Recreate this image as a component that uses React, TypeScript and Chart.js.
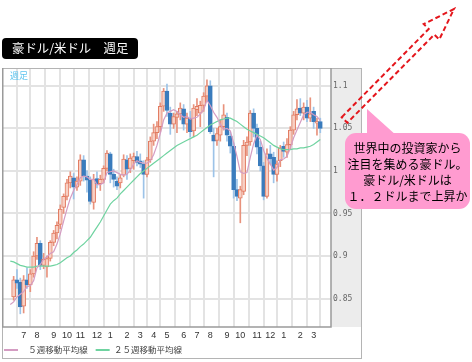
import React, { useEffect, useRef } from "react";
import { Chart, registerables } from "chart.js";

Chart.register(...registerables);

// Weekly AUD/USD candles (week 0 = mid June 2010 ... week 92 = March 2012)
const opens = [
  0.852, 0.872, 0.869, 0.841, 0.872, 0.866, 0.879, 0.900, 0.915, 0.889,
  0.887, 0.897, 0.916, 0.927, 0.937, 0.957, 0.970, 0.986, 0.992, 0.981,
  0.988, 1.013, 0.994, 0.989, 0.963, 0.991, 0.985, 0.990, 1.003, 1.020,
  0.996, 0.988, 0.986, 0.995, 1.013, 1.003, 1.012, 1.017, 1.012, 1.008,
  0.996, 1.013, 1.035, 1.045, 1.052, 1.076, 1.094, 1.068, 1.055, 1.063,
  1.067, 1.073, 1.055, 1.062, 1.047, 1.072, 1.068, 1.077, 1.088, 1.100,
  1.042, 1.036, 1.042, 1.052, 1.063, 1.041, 1.029, 0.978, 0.968, 0.976,
  1.030, 1.034, 1.068, 1.050, 1.028, 1.006, 0.970, 1.020, 1.016, 0.996,
  1.012, 1.029, 1.022, 1.031, 1.048, 1.066, 1.074, 1.068, 1.075, 1.062,
  1.070, 1.056, 1.058,
];
const highs = [
  0.876, 0.884, 0.874, 0.877, 0.886, 0.884, 0.905, 0.922, 0.918, 0.903,
  0.900, 0.918, 0.930, 0.940, 0.960, 0.973, 0.990, 0.999, 0.997, 0.993,
  1.019, 1.018, 1.000, 0.993, 0.996, 0.999, 0.995, 1.006, 1.024, 1.022,
  1.002, 0.993, 0.995, 1.019, 1.018, 1.020, 1.021, 1.023, 1.020, 1.012,
  1.016, 1.040, 1.055, 1.058, 1.080, 1.097, 1.102, 1.075, 1.068, 1.070,
  1.080, 1.078, 1.068, 1.070, 1.078, 1.085, 1.082, 1.092, 1.107, 1.106,
  1.050, 1.050, 1.060, 1.078, 1.068, 1.046, 1.033, 0.990, 0.982, 1.036,
  1.040, 1.071, 1.073, 1.055, 1.035, 1.010, 1.026, 1.030, 1.022, 1.012,
  1.030, 1.034, 1.038, 1.052, 1.070, 1.084, 1.085, 1.080, 1.083, 1.086,
  1.075, 1.062, 1.062,
];
const lows = [
  0.848, 0.862, 0.832, 0.833, 0.862, 0.858, 0.875, 0.896, 0.884, 0.885,
  0.875, 0.894, 0.912, 0.920, 0.932, 0.950, 0.966, 0.980, 0.967, 0.977,
  0.983, 0.988, 0.975, 0.961, 0.955, 0.980, 0.977, 0.986, 1.000, 0.986,
  0.981, 0.978, 0.980, 0.993, 0.990, 0.998, 1.002, 1.006, 1.004, 0.968,
  0.993, 1.010, 1.030, 1.038, 1.046, 1.070, 1.064, 1.043, 1.050, 1.045,
  1.060, 1.048, 1.045, 1.040, 1.040, 1.065, 1.052, 1.070, 1.082, 1.044,
  0.993, 1.030, 1.035, 1.048, 1.035, 1.021, 0.968, 0.965, 0.939, 0.972,
  1.018, 1.030, 1.040, 1.020, 1.000, 0.966, 0.968, 1.008, 0.986, 0.988,
  1.005, 1.016, 1.016, 1.026, 1.043, 1.060, 1.065, 1.060, 1.058, 1.058,
  1.050, 1.042, 1.045,
];
const closes = [
  0.872, 0.868, 0.840, 0.872, 0.866, 0.879, 0.900, 0.915, 0.889, 0.896,
  0.897, 0.916, 0.927, 0.936, 0.955, 0.970, 0.986, 0.994, 0.981, 0.988,
  1.013, 0.994, 0.989, 0.964, 0.990, 0.985, 0.990, 1.003, 1.021, 0.996,
  0.990, 0.982, 0.992, 1.014, 1.002, 1.015, 1.017, 1.010, 1.008, 0.996,
  1.013, 1.035, 1.045, 1.052, 1.076, 1.094, 1.071, 1.055, 1.064, 1.067,
  1.074, 1.055, 1.062, 1.046, 1.074, 1.076, 1.077, 1.088, 1.100, 1.046,
  1.035, 1.044, 1.052, 1.066, 1.042, 1.029, 0.978, 0.970, 0.978, 1.030,
  1.034, 1.068, 1.050, 1.028, 1.006, 0.970, 1.020, 1.014, 0.996, 1.008,
  1.027, 1.023, 1.031, 1.048, 1.066, 1.073, 1.068, 1.075, 1.062, 1.067,
  1.058, 1.058, 1.050,
];
// Moving averages (first value = the week before week 0)
const ma5Weekly = [
  0.843,
  0.846, 0.852, 0.855, 0.858, 0.864, 0.865, 0.871, 0.886, 0.890, 0.896,
  0.899, 0.903, 0.905, 0.914, 0.926, 0.941, 0.955, 0.968, 0.977, 0.984,
  0.992, 0.994, 0.993, 0.990, 0.990, 0.984, 0.984, 0.986, 0.998, 0.999,
  1.000, 0.998, 0.996, 0.995, 0.996, 1.001, 1.008, 1.012, 1.010, 1.009,
  1.009, 1.012, 1.019, 1.030, 1.044, 1.060, 1.068, 1.070, 1.072, 1.070,
  1.066, 1.063, 1.064, 1.061, 1.062, 1.063, 1.067, 1.072, 1.083, 1.077,
  1.069, 1.063, 1.055, 1.049, 1.050, 1.047, 1.033, 1.017, 0.999, 0.997,
  0.998, 1.016, 1.032, 1.042, 1.037, 1.024, 1.015, 1.008, 1.001, 1.004,
  1.013, 1.014, 1.017, 1.027, 1.039, 1.048, 1.057, 1.066, 1.069, 1.069,
  1.066, 1.064, 1.059,
];
const ma25Weekly = [
  0.894,
  0.893, 0.891, 0.889, 0.888, 0.887, 0.887, 0.887, 0.888, 0.888, 0.888,
  0.888, 0.888, 0.889, 0.890, 0.892, 0.895, 0.898, 0.900, 0.904, 0.907,
  0.911, 0.914, 0.918, 0.922, 0.928, 0.934, 0.940, 0.947, 0.954, 0.961,
  0.965, 0.968, 0.973, 0.977, 0.981, 0.985, 0.989, 0.993, 0.997, 1.000,
  1.003, 1.006, 1.009, 1.012, 1.015, 1.018, 1.021, 1.024, 1.027, 1.030,
  1.032, 1.034, 1.036, 1.038, 1.040, 1.042, 1.045, 1.048, 1.051, 1.054,
  1.056, 1.058, 1.060, 1.061, 1.062, 1.062, 1.060, 1.058, 1.055, 1.052,
  1.049, 1.047, 1.045, 1.043, 1.041, 1.039, 1.036, 1.033, 1.030, 1.028,
  1.026, 1.025, 1.025, 1.025, 1.026, 1.026, 1.027, 1.027, 1.028, 1.029,
  1.031, 1.034, 1.037,
];
const monthTickWeeks = [3, 7, 12, 16, 20, 25, 29, 34, 38, 42, 46, 51, 55, 59, 64, 68, 73, 77, 81, 86, 90];
const monthTickLabels = ["7", "8", "9", "10", "11", "12", "1", "2", "3", "4", "5", "6", "7", "8", "9", "10", "11", "12", "1", "2", "3"];
const priceTicks = [0.85, 0.9, 0.95, 1, 1.05, 1.1];
const priceTickLabels = ["0.85", "0.9", "0.95", "1", "1.05", "1.1"];
const seriesNames = ["５週移動平均線", "２５週移動平均線"];
const titleText = "豪ドル/米ドル　週足";
const periodCaption = "週足";
const calloutLines = ["世界中の投資家から", "注目を集める豪ドル。", "豪ドル/米ドルは", "１．２ドルまで上昇か"];

const UP_BORDER = "#e27a60";
const UP_FILL = "#f8d0c4";
const UP_WICK = "#e8927c";
const DOWN_FILL = "#3a7cbd";
const DOWN_WICK = "#9cc3e8";
const MA5_COLOR = "#d49cc2";
const MA25_COLOR = "#6fd3a0";
const JP_FONT = '"Noto Sans CJK JP", "Noto Sans", sans-serif';

const framePlugin = {
  id: "frame",
  beforeDraw(chart: any) {
    const { ctx, chartArea: a } = chart;
    ctx.save();
    ctx.fillStyle = "#ececec";
    ctx.fillRect(a.right, a.top, 31, a.bottom - a.top);
    ctx.restore();
  },
  afterDraw(chart: any) {
    const { ctx, chartArea: a } = chart;
    ctx.save();
    ctx.strokeStyle = "#b4b4b4";
    ctx.lineWidth = 1;
    ctx.strokeRect(a.left + 0.5, a.top + 0.5, a.right + 31 - a.left - 1, 358 - a.top);
    ctx.strokeStyle = "#9a9a9a";
    ctx.lineWidth = 1.5;
    ctx.beginPath();
    ctx.moveTo(a.left + 0.75, a.top);
    ctx.lineTo(a.left + 0.75, a.bottom);
    ctx.lineTo(a.right, a.bottom);
    ctx.lineTo(a.right, a.top);
    ctx.stroke();
    ctx.fillStyle = "#5cc4ee";
    ctx.font = `9px ${JP_FONT}`;
    ctx.textBaseline = "top";
    ctx.fillText(periodCaption, a.left + 8, a.top + 3);
    ctx.restore();
  },
};

export default function App() {
  const canvasRef = useRef<HTMLCanvasElement>(null);

  useEffect(() => {
    const canvas = canvasRef.current;
    if (!canvas) return;
    const up = (i: number) => closes[i] >= opens[i];
    const weeks = opens.map((_, i) => i);

    const chart = new Chart(canvas, {
      type: "bar",
      data: {
        datasets: [
          {
            type: "line",
            label: seriesNames[0],
            data: ma5Weekly.map((v, k) => ({ x: k - 1, y: v })),
            borderColor: MA5_COLOR,
            borderWidth: 1.2,
            pointRadius: 0,
            fill: false,
            tension: 0,
            order: 0,
          },
          {
            type: "line",
            label: seriesNames[1],
            data: ma25Weekly.map((v, k) => ({ x: k - 1, y: v })),
            borderColor: MA25_COLOR,
            borderWidth: 1.2,
            pointRadius: 0,
            fill: false,
            tension: 0,
            order: 0,
          },
          {
            type: "bar",
            label: "body",
            data: weeks.map((i) => ({ x: i, y: [opens[i], closes[i]] })),
            backgroundColor: (c: any) => (up(c.dataIndex) ? UP_FILL : DOWN_FILL),
            borderColor: (c: any) => (up(c.dataIndex) ? UP_BORDER : DOWN_FILL),
            borderWidth: 1,
            borderSkipped: false,
            barThickness: 4,
            grouped: false,
            order: 1,
          },
          {
            type: "bar",
            label: "wick",
            data: weeks.map((i) => ({ x: i, y: [lows[i], highs[i]] })),
            backgroundColor: (c: any) => (up(c.dataIndex) ? UP_WICK : DOWN_WICK),
            borderWidth: 0,
            barThickness: 1,
            grouped: false,
            order: 2,
          },
        ] as any,
      },
      options: {
        responsive: false,
        animation: false,
        devicePixelRatio: 1,
        layout: { padding: { left: 2, top: 68, right: 110, bottom: 7.75 } },
        plugins: {
          tooltip: { enabled: false },
          legend: {
            position: "bottom",
            align: "start",
            labels: {
              usePointStyle: true,
              pointStyle: "line",
              pointStyleWidth: 14,
              boxHeight: 8.5,
              padding: 2,
              color: "#444",
              font: { family: JP_FONT, size: 8.5 },
              generateLabels: () => [
                {
                  text: "\u2002\u2009" + seriesNames[0] + "\u2002\u2009",
                  strokeStyle: MA5_COLOR,
                  fillStyle: MA5_COLOR,
                  lineWidth: 2,
                  pointStyle: "line",
                  hidden: false,
                  datasetIndex: 0,
                  fontColor: "#444",
                },
                {
                  text: seriesNames[1],
                  strokeStyle: MA25_COLOR,
                  fillStyle: MA25_COLOR,
                  lineWidth: 2,
                  pointStyle: "line",
                  hidden: false,
                  datasetIndex: 1,
                  fontColor: "#444",
                },
              ],
            },
          },
        },
        scales: {
          x: {
            type: "linear",
            min: -1.14,
            max: 92.86,
            afterBuildTicks: (s: any) => {
              s.ticks = monthTickWeeks.map((v) => ({ value: v }));
            },
            afterFit: (s: any) => {
              s.height = 16.75;
            },
            ticks: {
              autoSkip: false,
              maxRotation: 0,
              padding: 3,
              color: "#333",
              font: { family: "Liberation Sans", size: 9 },
              callback: (v: any) => monthTickLabels[monthTickWeeks.indexOf(v)],
            },
            grid: { color: "#e3e3e3", lineWidth: 2, drawTicks: false },
            border: { display: false },
          },
          y: {
            type: "linear",
            position: "right",
            min: 0.8165,
            max: 1.121,
            afterBuildTicks: (s: any) => {
              s.ticks = priceTicks.map((v) => ({ value: v }));
            },
            afterFit: (s: any) => {
              s.width = 31;
            },
            ticks: {
              padding: 2,
              color: "#666",
              font: { family: "DejaVu Sans Mono", size: 8 },
              callback: (v: any) => priceTickLabels[priceTicks.indexOf(v)],
            },
            grid: { color: "#e3e3e3", lineWidth: 2, drawTicks: false },
            border: { display: false },
          },
        },
      } as any,
      plugins: [framePlugin],
    });
    return () => chart.destroy();
  }, []);

  return (
    <div
      style={{
        position: "fixed",
        left: 0,
        top: 0,
        width: 472,
        height: 362,
        background: "#fff",
        overflow: "hidden",
      }}
    >
      <canvas
        ref={canvasRef}
        width={472}
        height={372}
        style={{ position: "absolute", left: 0, top: 0, width: 472, height: 372 }}
      />
      <div
        style={{
          position: "absolute",
          left: 2,
          top: 38,
          width: 136,
          height: 21,
          boxSizing: "border-box",
          background: "#000",
          borderRadius: 4,
          color: "#fff",
          fontFamily: JP_FONT,
          fontSize: 12.4,
          lineHeight: "21px",
          paddingLeft: 10,
          whiteSpace: "nowrap",
          overflow: "hidden",
        }}
      >
        {titleText}
      </div>
      <svg
        width={472}
        height={362}
        style={{ position: "absolute", left: 0, top: 0, pointerEvents: "none" }}
      >
        <polygon
          points="341.7,117.2 428.7,29 423.7,24.1 454,9 439.3,39.5 434.3,34.6 347.3,122.8"
          fill="none"
          stroke="#e4161c"
          strokeWidth={2}
          strokeDasharray="5 3"
        />
        <rect x={345} y={133} width={125} height={76} rx={11} ry={11} fill="#ff9bd0" />
        <polygon points="367,109 367,136 397,136" fill="#ff9bd0" />
      </svg>
      <div
        style={{
          position: "absolute",
          left: 345,
          top: 140,
          width: 125,
          textAlign: "center",
          fontFamily: JP_FONT,
          fontSize: 12,
          lineHeight: "16px",
          color: "#000",
          whiteSpace: "nowrap",
        }}
      >
        {calloutLines.map((t, k) => (
          <div key={k}>{t}</div>
        ))}
      </div>
    </div>
  );
}
